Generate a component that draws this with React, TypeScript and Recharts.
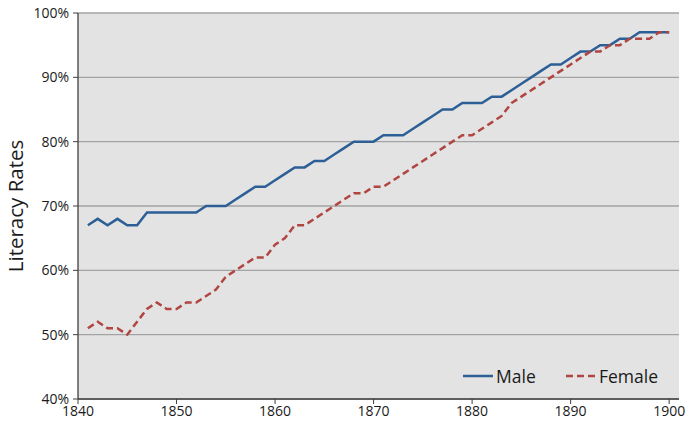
import React from 'react';
import { LineChart, Line, XAxis, YAxis, CartesianGrid } from 'recharts';

const years = [
  1841, 1842, 1843, 1844, 1845, 1846, 1847, 1848, 1849, 1850,
  1851, 1852, 1853, 1854, 1855, 1856, 1857, 1858, 1859, 1860,
  1861, 1862, 1863, 1864, 1865, 1866, 1867, 1868, 1869, 1870,
  1871, 1872, 1873, 1874, 1875, 1876, 1877, 1878, 1879, 1880,
  1881, 1882, 1883, 1884, 1885, 1886, 1887, 1888, 1889, 1890,
  1891, 1892, 1893, 1894, 1895, 1896, 1897, 1898, 1899, 1900,
];

const male = [
  67, 68, 67, 68, 67, 67, 69, 69, 69, 69,
  69, 69, 70, 70, 70, 71, 72, 73, 73, 74,
  75, 76, 76, 77, 77, 78, 79, 80, 80, 80,
  81, 81, 81, 82, 83, 84, 85, 85, 86, 86,
  86, 87, 87, 88, 89, 90, 91, 92, 92, 93,
  94, 94, 95, 95, 96, 96, 97, 97, 97, 97,
];

const female = [
  51, 52, 51, 51, 50, 52, 54, 55, 54, 54,
  55, 55, 56, 57, 59, 60, 61, 62, 62, 64,
  65, 67, 67, 68, 69, 70, 71, 72, 72, 73,
  73, 74, 75, 76, 77, 78, 79, 80, 81, 81,
  82, 83, 84, 86, 87, 88, 89, 90, 91, 92,
  93, 94, 94, 95, 95, 96, 96, 96, 97, 97,
];

const xTicks = [1840, 1850, 1860, 1870, 1880, 1890, 1900];
const yTicks = [40, 50, 60, 70, 80, 90, 100];

const data = years.map((y, i) => ({ year: y, Male: male[i], Female: female[i] }));

const MALE_COLOR = '#2d5f97';
const FEMALE_COLOR = '#b04542';
const FONT = '"Open Sans", Lato, "Noto Sans", sans-serif';

export default function App() {
  return (
    <div style={{ position: 'fixed', left: 0, top: 0, width: 687, height: 429, background: '#fff' }}>
      <LineChart
        width={687}
        height={429}
        data={data}
        margin={{ top: 13, right: 8, bottom: 0, left: 0 }}
        style={{ fontFamily: FONT }}
      >
        <CartesianGrid
          horizontal
          vertical={false}
          fill="#e3e3e3"
          stroke="#a3a3a3"
          strokeWidth={1.3}
        />
        <XAxis
          dataKey="year"
          type="number"
          domain={[1840, 1901]}
          ticks={xTicks}
          allowDataOverflow
          height={30}
          tickSize={5}
          tickLine={{ stroke: '#404040' }}
          axisLine={{ stroke: '#404040', strokeWidth: 1.3 }}
          tick={{ fill: '#1a1a1a', fontSize: 14, fontFamily: FONT }}
          tickMargin={2}
        />
        <YAxis
          type="number"
          domain={[40, 100]}
          ticks={yTicks}
          width={78}
          tickSize={5}
          tickLine={{ stroke: '#404040' }}
          axisLine={{ stroke: '#404040', strokeWidth: 1.3 }}
          tick={{ fill: '#1a1a1a', fontSize: 14, fontFamily: FONT }}
          tickFormatter={(v: number) => `${v}%`}
          tickMargin={4}
          label={{
            value: 'Literacy Rates',
            angle: -90,
            position: 'insideLeft',
            offset: 16,
            style: { textAnchor: 'middle', fontSize: 20.5, fill: '#1a1a1a', fontFamily: FONT },
          }}
        />
        <Line
          type="linear"
          dataKey="Male"
          stroke={MALE_COLOR}
          strokeWidth={2.5}
          dot={false}
          isAnimationActive={false}
        />
        <Line
          type="linear"
          dataKey="Female"
          stroke={FEMALE_COLOR}
          strokeWidth={2.5}
          strokeDasharray="7 4"
          dot={false}
          isAnimationActive={false}
        />
      </LineChart>
      <svg
        width={220}
        height={26}
        style={{ position: 'absolute', left: 460, top: 364, fontFamily: FONT }}
      >
        <line x1={3} y1={12} x2={33} y2={12} stroke={MALE_COLOR} strokeWidth={2.5} />
        <text x={36} y={18.5} fontSize={17.5} fill="#1a1a1a">Male</text>
        <line x1={106} y1={12} x2={136} y2={12} stroke={FEMALE_COLOR} strokeWidth={2.5} strokeDasharray="7 4" />
        <text x={139} y={18.5} fontSize={17.5} fill="#1a1a1a">Female</text>
      </svg>
    </div>
  );
}
